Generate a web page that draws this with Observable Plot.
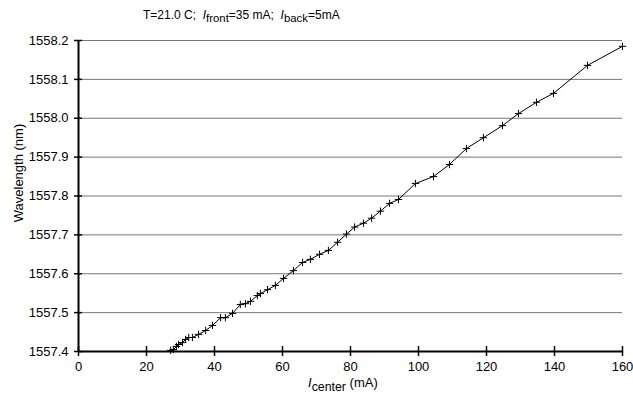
<!DOCTYPE html>
<html><head><meta charset="utf-8">
<script src="https://cdn.jsdelivr.net/npm/d3@7"></script>
<script src="https://cdn.jsdelivr.net/npm/@observablehq/plot@0.6"></script>
<style>
body{margin:0;background:#fff;font-family:"Liberation Sans",Arial,sans-serif;}
#wrap{position:relative;width:633px;height:395px;}
.ov{position:absolute;white-space:nowrap;color:#000;line-height:1;}
.ov sub{font-size:0.95em;vertical-align:-0.3em;}
#ylab{left:18px;top:173px;font-size:13px;transform:translate(-50%,-50%) rotate(-90deg);}
</style></head><body>
<div id="wrap">
<div class="ov" style="left:143px;top:9px;font-size:12px;">T=21.0 C;&nbsp; <i>I</i><sub>front</sub>=35 mA;&nbsp; <i>I</i><sub>back</sub>=5mA</div>
<div class="ov" style="left:308px;top:376px;font-size:13px;"><i>I</i><sub>center</sub> (mA)</div>
<div class="ov" id="ylab">Wavelength (nm)</div>
</div>
<script>
const current = [27.1,27.9,28.8,29.4,30.6,31.5,32.4,33.5,35.3,37.4,39.4,41.8,43.2,45.3,47.6,49.1,50.6,52.6,53.5,55.6,57.9,60.3,63.2,65.9,68.2,70.9,73.5,76.2,78.8,81.2,83.8,86.2,88.8,91.5,94.1,99.1,104.4,109.1,114.1,119.1,124.7,129.4,134.7,139.7,149.7,160.0];
const wavelength = [1557.403,1557.405,1557.413,1557.418,1557.423,1557.431,1557.436,1557.436,1557.444,1557.454,1557.467,1557.487,1557.487,1557.498,1557.521,1557.523,1557.529,1557.544,1557.549,1557.559,1557.570,1557.588,1557.608,1557.629,1557.637,1557.650,1557.660,1557.681,1557.702,1557.720,1557.730,1557.743,1557.761,1557.781,1557.791,1557.832,1557.850,1557.881,1557.922,1557.950,1557.981,1558.012,1558.041,1558.064,1558.136,1558.185];
const xTicks = [0,20,40,60,80,100,120,140,160];
const yTicks = [1557.4,1557.5,1557.6,1557.7,1557.8,1557.9,1558.0,1558.1,1558.2];

const data = current.map((c, i) => ({c, w: wavelength[i]}));

const chart = Plot.plot({
  width: 633, height: 395,
  marginLeft: 78, marginRight: 11, marginTop: 40, marginBottom: 44,
  style: {fontFamily: '"Liberation Sans", Arial, sans-serif', fontSize: "13px", color: "#000", background: "transparent"},
  x: {domain: [0, 160]},
  y: {domain: [1557.4, 1558.2]},
  marks: [
    Plot.ruleY(yTicks, {stroke: "#777", strokeWidth: 1}),
    Plot.ruleX([0], {stroke: "#000", strokeWidth: 2}),
    Plot.ruleY([1557.4], {stroke: "#000", strokeWidth: 2}),
    Plot.ruleX(xTicks, {x: d => d, y1: 1557.4, y2: 1557.4, insetTop: -5, insetBottom: -5, stroke: "#000", strokeWidth: 1.5}),
    Plot.ruleY(yTicks, {y: d => d, x1: 0, x2: 0, insetLeft: -4, insetRight: -4, stroke: "#000", strokeWidth: 1.5}),
    Plot.axisX(xTicks, {tickSize: 0, tickPadding: 10, tickFormat: d => String(d), label: null}),
    Plot.axisY(yTicks, {tickSize: 0, tickPadding: 10, tickFormat: d => d.toFixed(1), label: null}),
    Plot.line(data, {x: "c", y: "w", stroke: "#000", strokeWidth: 1}),
    Plot.dot(data, {x: "c", y: "w", symbol: "plus", r: 2.5, stroke: "#000", strokeWidth: 1})
  ]
});
chart.style.position = "absolute";
chart.style.left = "0px";
chart.style.top = "0px";
document.getElementById("wrap").prepend(chart);
</script>
</body></html>
